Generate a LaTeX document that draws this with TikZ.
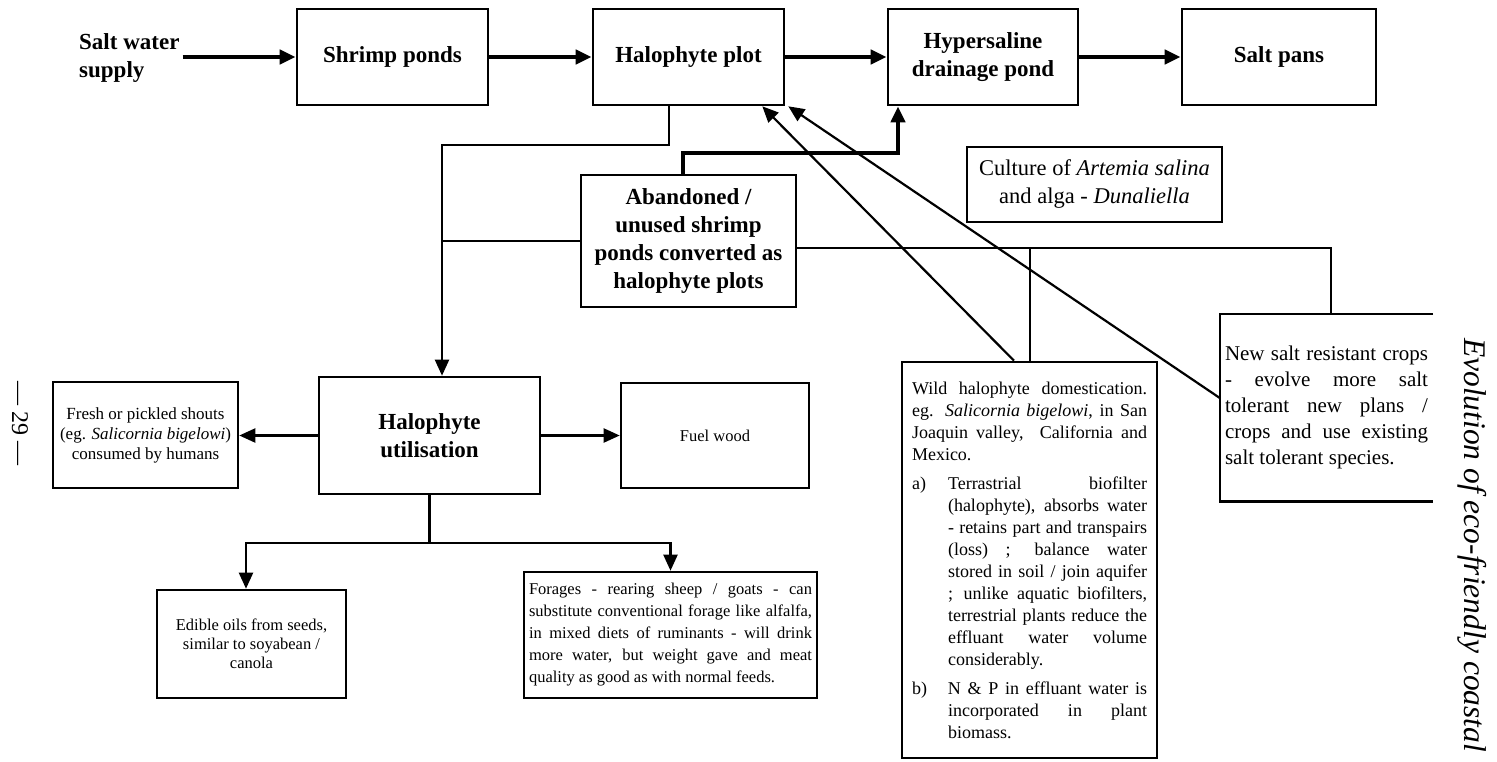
\documentclass[tikz,border=0pt]{standalone}
\usepackage{fontspec}
\setmainfont{Liberation Serif}
\usetikzlibrary{arrows.meta}

\begin{document}
\begin{tikzpicture}[x=1pt,y=-1pt]
%styles des boites et des liaisons
\tikzset{boite/.style={draw,line width=2.6pt,inner sep=3pt,align=center},
gras/.style={font=\fontsize{23}{28}\selectfont\bfseries},
petit/.style={font=\fontsize{17}{20}\selectfont},
lien/.style={line width=2.2pt},
epais/.style={line width=4pt},
fleche/.style={-{Triangle[length=16pt,width=14pt]}}}
\useasboundingbox (0,0) rectangle (1497,761);
% ligne du haut
\node[gras,align=left,anchor=west,inner sep=3pt] (eau) at (76,58) {Salt water\\supply};
\node[boite,gras,minimum width=191pt,minimum height=96pt] (crevettes) at (392.5,57) {Shrimp ponds};
\node[boite,gras,minimum width=191pt,minimum height=96pt] (halo) at (688.5,57) {Halophyte plot};
\node[boite,gras,minimum width=190pt,minimum height=96pt] (hyper) at (983,57) {Hypersaline\\drainage pond};
\node[boite,gras,minimum width=194pt,minimum height=96pt] (sel) at (1279,57) {Salt pans};
\draw[epais,fleche] (eau.east |- crevettes) -- (crevettes.west);
\draw[epais,fleche] (crevettes) -- (halo);
\draw[epais,fleche] (halo) -- (hyper);
\draw[epais,fleche] (hyper) -- (sel);
% bassins abandonnes
\node[boite,gras,minimum width=215pt,minimum height=132pt] (abandon) at (688.5,241) {Abandoned /\\unused shrimp\\ponds converted as\\halophyte plots};
\node[boite,font=\fontsize{22.5}{28}\selectfont,minimum width=255pt,minimum height=75pt] (culture) at (1094.5,184.5) {Culture of \textit{Artemia salina}\\and alga - \textit{Dunaliella}};
% utilisation
\node[boite,gras,minimum width=221pt,minimum height=117pt] (util) at (429.5,435.5) {Halophyte\\utilisation};
\node[boite,petit,minimum width=185pt,minimum height=106pt] (frais) at (145.5,435) {Fresh or pickled shouts\\(eg. \textit{Salicornia bigelowi})\\consumed by humans};
\node[boite,font=\fontsize{16.5}{20}\selectfont,minimum width=188pt,minimum height=105pt] (bois) at (715,435.5) {Fuel wood};
\node[boite,font=\fontsize{16.5}{19}\selectfont,minimum width=189pt,minimum height=108pt] (huile) at (251.5,644) {Edible oils from seeds,\\similar to soyabean /\\canola};
\node[boite,font=\fontsize{16.5}{22}\selectfont,text width=283pt,inner xsep=5pt,align=justify,minimum height=126pt] (fourrage) at (670.5,635) {\noindent Forages - rearing sheep / goats - can\linebreak substitute conventional forage like alfalfa,\linebreak in mixed diets of ruminants - will drink\linebreak more water, but weight gave and meat\linebreak quality as good as with normal feeds.};
% domestication et nouvelles cultures
\node[boite,font=\fontsize{18}{22}\selectfont,text width=235pt,inner xsep=10pt,align=justify,minimum height=396pt] (sauvage) at (1029.5,560) {\noindent Wild halophyte domestication.\linebreak eg. \textit{Salicornia bigelowi}, in San\linebreak Joaquin valley,\ \ California and\linebreak Mexico.\par\vspace{7pt}
\hangindent=36pt\hangafter=1\noindent\makebox[36pt][l]{a)}Terrastrial biofilter\linebreak (halophyte), absorbs water\linebreak - retains part and transpairs\linebreak (loss) ; balance water\linebreak stored in soil / join aquifer\linebreak ; unlike aquatic biofilters,\linebreak terrestrial plants reduce the\linebreak effluant water volume\linebreak considerably.\par\vspace{7pt}
\hangindent=36pt\hangafter=1\noindent\makebox[36pt][l]{b)}N \& P in effluant water is\linebreak incorporated in plant\linebreak biomass.\par};
\node[font=\fontsize{21}{26}\selectfont,text width=203pt,inner xsep=5pt,inner ysep=0pt,align=justify,minimum width=213pt,minimum height=187pt] (nouv) at (1326.5,407.5) {\noindent New salt resistant crops\linebreak - evolve more salt\linebreak tolerant new plans /\linebreak crops and use existing\linebreak salt tolerant species.};
\draw[line width=2.6pt] (nouv.north east) -- (nouv.north west) -- (nouv.south west) -- (nouv.south east); %bord droit coupe
% liaisons
\coordinate (c1) at (442,145);
\draw[lien,fleche] ([xshift=-19.5pt]halo.south) |- (c1) -- (c1 |- util.north);
\draw[lien] (abandon.west) -- (abandon.west -| c1);
\coordinate (c2) at (898,153);
\draw[epais,fleche] ([xshift=-5.5pt]abandon.north) |- (c2) -- (c2 |- hyper.south);
\coordinate (c3) at (1331,248);
\coordinate (c4) at (1030,248);
\draw[lien] ([yshift=-7pt]abandon.east) -- (c3) -- (c3 |- nouv.north);
\draw[lien] (c4) -- (c4 |- sauvage.north);
\draw[lien,fleche] ([xshift=-15.5pt]sauvage.north) -- ([xshift=-23pt]halo.south east);
\draw[lien,fleche] ([yshift=9.5pt]nouv.west) -- ([xshift=3pt]halo.south east);
\draw[lien,fleche] (util.west) -- (util.west -| frais.east);
\draw[lien,fleche] (util.east) -- (util.east -| bois.west);
\coordinate (c5) at (429.5,543);
\draw[lien] (util) -- (c5);
\draw[lien,fleche] (c5) -| ([xshift=-5.5pt]huile.north);
\draw[lien,fleche] (c5) -| (fourrage.north);
% textes en marge
\node[font=\fontsize{31.5}{36}\selectfont\itshape,rotate=-90,anchor=west,inner sep=0pt] (titre) at (1472,338) {Evolution of eco-friendly coastal};
\node[font=\fontsize{24}{28}\selectfont,rotate=-90,inner sep=0pt] (page) at (20,423) {--- 29 ---};
\end{tikzpicture}
\end{document}
